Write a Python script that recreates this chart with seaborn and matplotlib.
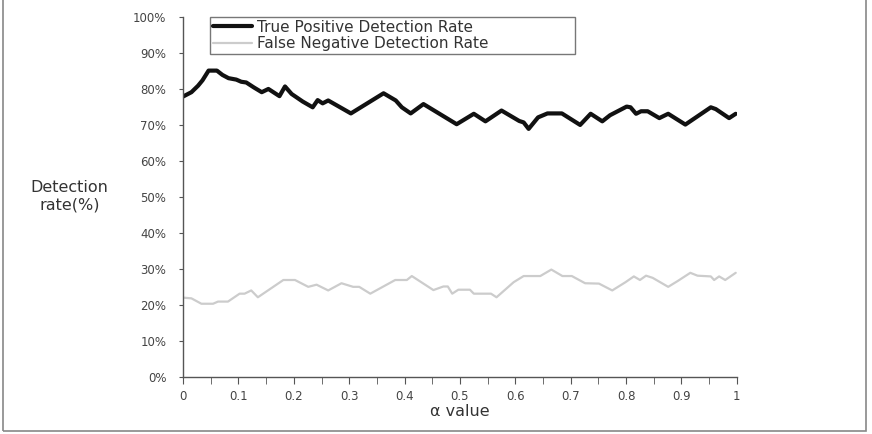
import matplotlib
matplotlib.use("Agg")
import matplotlib.pyplot as plt
import matplotlib.patches as mpatches
from matplotlib.ticker import MultipleLocator, FuncFormatter
import seaborn as sns
import pandas as pd

# True positive detection rate (vertices)
tp_alpha = [0.00, 0.015, 0.027, 0.035, 0.046, 0.061, 0.071, 0.082, 0.096, 0.105, 0.114,
            0.128, 0.142, 0.154, 0.174, 0.184, 0.196, 0.216, 0.234, 0.243, 0.252, 0.262,
            0.303, 0.362, 0.384, 0.395, 0.411, 0.434, 0.494, 0.525, 0.546, 0.575, 0.607,
            0.615, 0.624, 0.641, 0.658, 0.684, 0.717, 0.736, 0.757, 0.771, 0.801, 0.808,
            0.818, 0.827, 0.839, 0.860, 0.876, 0.907, 0.953, 0.962, 0.986, 0.998]
tp_rate = [78.0, 79.2, 81.0, 82.5, 85.2, 85.2, 84.0, 83.1, 82.7, 82.1, 81.9,
           80.5, 79.2, 80.1, 78.1, 80.8, 78.7, 76.6, 75.0, 77.0, 76.1, 76.9,
           73.3, 78.9, 76.9, 75.0, 73.3, 75.9, 70.3, 73.2, 71.1, 74.1, 71.2,
           70.8, 69.0, 72.2, 73.3, 73.3, 70.1, 73.2, 71.1, 72.8, 75.2, 75.0,
           73.2, 73.9, 73.9, 72.0, 73.2, 70.2, 75.0, 74.5, 72.0, 73.2]

# False negative detection rate (vertices)
fn_alpha = [0.00, 0.015, 0.033, 0.054, 0.063, 0.081, 0.102, 0.111, 0.123, 0.135, 0.181,
            0.202, 0.226, 0.241, 0.262, 0.286, 0.307, 0.318, 0.338, 0.383, 0.404, 0.413,
            0.452, 0.470, 0.478, 0.486, 0.497, 0.518, 0.525, 0.556, 0.566, 0.597, 0.615,
            0.645, 0.665, 0.685, 0.702, 0.726, 0.751, 0.775, 0.799, 0.814, 0.825, 0.836,
            0.848, 0.876, 0.893, 0.916, 0.929, 0.953, 0.959, 0.968, 0.979, 0.998]
fn_rate = [22.1, 21.9, 20.4, 20.4, 21.0, 21.0, 23.2, 23.2, 24.1, 22.2, 27.0,
           27.0, 25.1, 25.7, 24.1, 26.1, 25.1, 25.1, 23.2, 27.0, 27.0, 28.1,
           24.2, 25.2, 25.2, 23.2, 24.3, 24.3, 23.2, 23.2, 22.2, 26.4, 28.1,
           28.1, 29.9, 28.1, 28.1, 26.1, 26.0, 24.1, 26.4, 28.0, 27.0, 28.2,
           27.6, 25.1, 26.7, 29.0, 28.2, 28.0, 27.0, 28.0, 27.0, 29.0]

series_names = ["True Positive Detection Rate", "False Negative Detection Rate"]
x_ticks = [0, 0.1, 0.2, 0.3, 0.4, 0.5, 0.6, 0.7, 0.8, 0.9, 1]
x_tick_labels = ["0", "0.1", "0.2", "0.3", "0.4", "0.5", "0.6", "0.7", "0.8", "0.9", "1"]

df = pd.concat([
    pd.DataFrame({"alpha": tp_alpha, "rate": tp_rate, "series": series_names[0]}),
    pd.DataFrame({"alpha": fn_alpha, "rate": fn_rate, "series": series_names[1]}),
], ignore_index=True)

sns.set_style("white")
plt.rcParams["font.family"] = ["DejaVu Sans"]

fig = plt.figure(figsize=(8.72, 4.34), dpi=100)
ax = fig.add_axes([0.210, 0.131, 0.635, 0.829])

palette = {series_names[0]: "#111111", series_names[1]: "#cccccc"}
sns.lineplot(data=df, x="alpha", y="rate", hue="series", palette=palette,
             sort=False, estimator=None, ax=ax, legend=False)
ax.lines[0].set_linewidth(3.0)
ax.lines[1].set_linewidth(1.6)

ax.set_xlim(0, 1)
ax.set_ylim(0, 100)
ax.set_xticks(x_ticks)
ax.set_xticklabels(x_tick_labels)
ax.xaxis.set_minor_locator(MultipleLocator(0.05))
ax.yaxis.set_major_locator(MultipleLocator(10))
ax.yaxis.set_major_formatter(FuncFormatter(lambda v, p: f"{int(round(v))}%"))

for s in ["top", "right"]:
    ax.spines[s].set_visible(False)
for s in ["left", "bottom"]:
    ax.spines[s].set_color("#555555")
    ax.spines[s].set_linewidth(1.0)

ax.tick_params(axis="both", which="both", direction="out", color="#555555",
               labelcolor="#444444", labelsize=8.5)
ax.tick_params(axis="y", which="major", left=True, length=3, pad=9)
ax.tick_params(axis="x", which="major", bottom=True, length=5, pad=4)
ax.tick_params(axis="x", which="minor", bottom=True, length=5)

ax.set_xlabel("α value", fontsize=11.5, color="#333333", labelpad=1)
ax.set_ylabel("")
fig.text(0.080, 0.548, "Detection\nrate(%)", ha="center", va="center",
         fontsize=11.5, color="#333333", linespacing=1.15)

handles = [plt.Line2D([], [], color="#111111", lw=3.0),
           plt.Line2D([], [], color="#cccccc", lw=1.6)]
leg = ax.legend(handles, series_names, loc="upper left",
                bbox_to_anchor=(0.049, 0.897, 0.659, 0.103), mode="expand",
                frameon=True, fancybox=False, fontsize=11, handlelength=2.6,
                handletextpad=0.3, borderpad=0.15, labelspacing=0.12, borderaxespad=0)
leg.get_frame().set_edgecolor("#555555")
leg.get_frame().set_linewidth(1.0)
for t in leg.get_texts():
    t.set_color("#333333")

border = mpatches.Rectangle((0.004, 0.007), 0.989, 1.1, transform=fig.transFigure,
                            fill=False, edgecolor="#888888", linewidth=1.2)
fig.patches.append(border)

fig.savefig("out.png", dpi=100)
